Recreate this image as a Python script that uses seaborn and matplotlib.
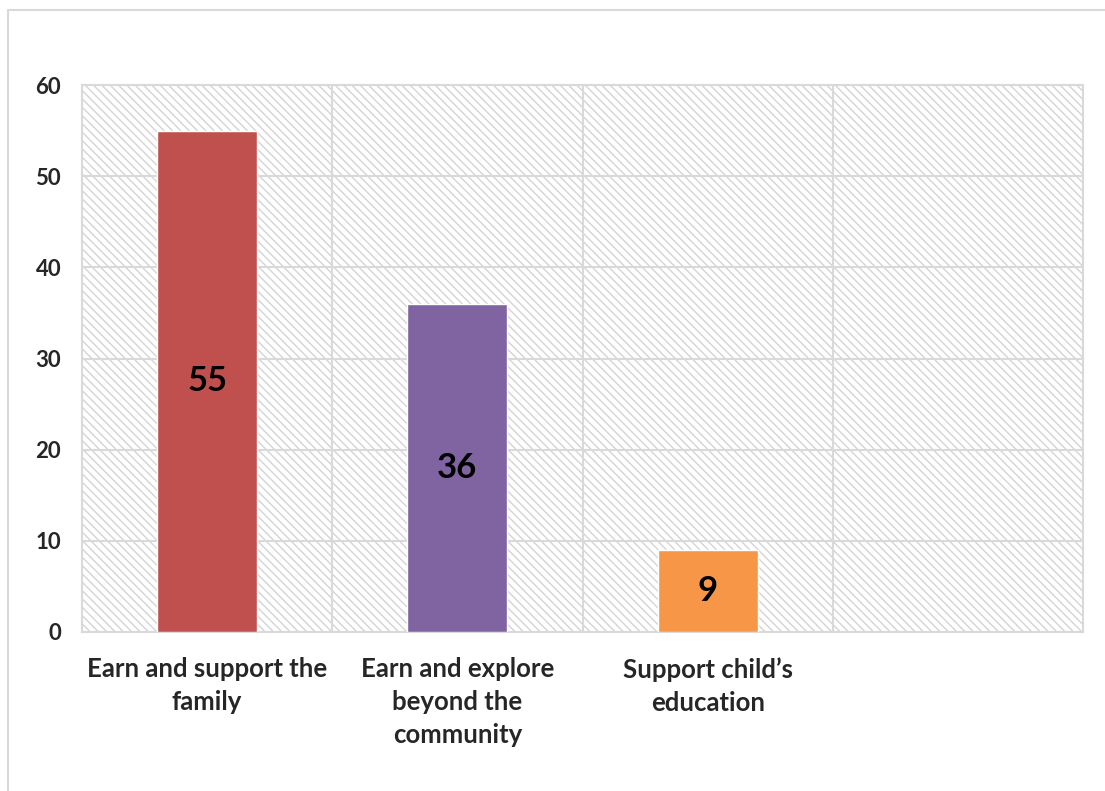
import matplotlib
matplotlib.use("Agg")
import matplotlib.pyplot as plt
from matplotlib.lines import Line2D
import seaborn as sns
import pandas as pd

categories = ["Earn and support the\nfamily",
              "Earn and explore\nbeyond the\ncommunity",
              "Support child\u2019s\neducation"]
values = [55, 36, 9]
colors = ["#C0504D", "#8064A2", "#F79646"]
y_ticks = [0, 10, 20, 30, 40, 50, 60]

sns.set_theme(style="white")
plt.rcParams["font.family"] = ["Lato", "DejaVu Sans"]
plt.rcParams["font.weight"] = "bold"
plt.rcParams["hatch.color"] = "#d4d4d4"
plt.rcParams["hatch.linewidth"] = 1.0

W, H = 1105, 791
fig = plt.figure(figsize=(W / 100, H / 100), dpi=100)
fig.patch.set_facecolor("white")

# outer chart frame (left and top edges)
fig.add_artist(Line2D([8 / W, 8 / W], [0, 1 - 10 / H], color="#d9d9d9", lw=1.5, transform=fig.transFigure))
fig.add_artist(Line2D([8 / W, 1.0], [1 - 10 / H, 1 - 10 / H], color="#d9d9d9", lw=1.5, transform=fig.transFigure))

ax = fig.add_axes([82 / W, 1 - 632 / H, (1083 - 82) / W, (632 - 85) / H])
ax.patch.set_facecolor("white")
ax.patch.set_hatch("\\\\\\\\")
ax.patch.set_edgecolor("#d4d4d4")

df = pd.DataFrame({"cat": categories, "val": values})
sns.barplot(data=df, x="cat", y="val", hue="cat", palette=colors, legend=False,
            width=0.4, saturation=1, ax=ax, zorder=3)

ax.set_xlim(-0.5, 3.5)
ax.set_ylim(0, 60)
ax.set_yticks(y_ticks)
ax.set_yticklabels([str(t) for t in y_ticks], fontsize=16, fontweight="bold")
ax.set_xticks(range(len(categories)))
ax.set_xticklabels(categories, fontsize=18.5, fontweight="bold", linespacing=1.45)
ax.set_xticks([0.5, 1.5, 2.5], minor=True)
ax.tick_params(axis="y", length=0, pad=15)
ax.tick_params(axis="x", which="both", length=0, pad=18)
ax.set_xlabel("")
ax.set_ylabel("")

ax.grid(axis="y", which="major", color="#d9d9d9", lw=1.5, zorder=1)
ax.grid(axis="x", which="minor", color="#d9d9d9", lw=1.5, zorder=1)
ax.set_axisbelow(True)
for s in ax.spines.values():
    s.set_visible(True)
    s.set_color("#d9d9d9")
    s.set_linewidth(1.5)

for i, v in enumerate(values):
    ax.text(i, v / 2, str(v), ha="center", va="center", fontsize=25,
            fontweight="bold", color="black", zorder=4)

fig.savefig("out.png", dpi=100, facecolor="white")
